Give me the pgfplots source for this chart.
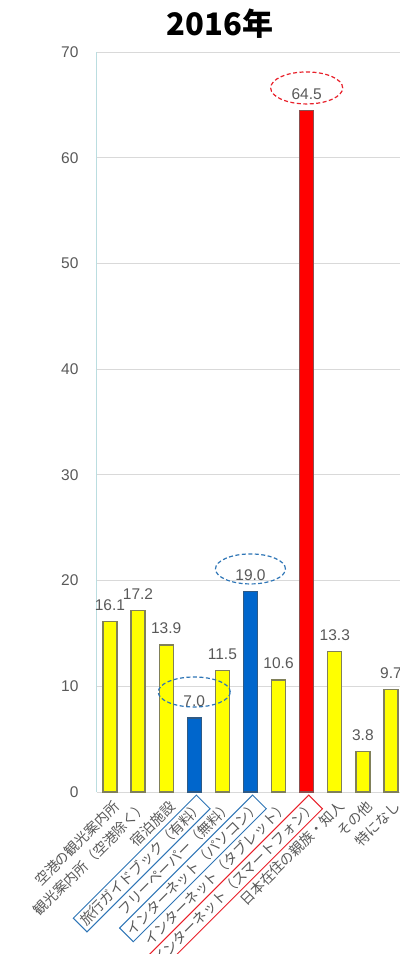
\documentclass[border=0pt]{standalone}
\usepackage{fontspec}
\setmainfont{Liberation Sans}
\newfontfamily\jp{Noto Sans CJK JP}
\usepackage{pgfplots}
\pgfplotsset{compat=1.18}

\definecolor{lbl}{HTML}{595959}
\definecolor{boxblue}{HTML}{2E75B6}
\definecolor{boxred}{HTML}{E8202A}
\definecolor{yfill}{HTML}{FFFF00}
\definecolor{bfill}{HTML}{0066CC}
\definecolor{rfill}{HTML}{FF0000}
\definecolor{edge}{HTML}{80805A}
\definecolor{bedge}{HTML}{2F5A85}
\definecolor{redge}{HTML}{8A5050}
\definecolor{axl}{HTML}{BBDDE0}
\definecolor{gridc}{HTML}{D9D9D9}

% boxed and plain tick labels, same padding
\newcommand{\bx}[2]{{\setlength{\fboxsep}{2.5pt}\setlength{\fboxrule}{1pt}\color{#1}\fbox{\color{lbl}#2}}}
\newcommand{\nb}[1]{{\setlength{\fboxsep}{3.5pt}\setlength{\fboxrule}{0pt}\fbox{#1}}}

\begin{document}
\begin{tikzpicture}
\begin{axis}[
    scale only axis,
    width=303pt, height=740pt,
    xmin=-0.46, xmax=10.32,
    ymin=0, ymax=70,
    ybar, bar width=14pt,
    every axis plot/.append style={bar shift=0pt, line width=1.2pt},
    axis x line*=bottom, axis y line*=left,
    axis line style={-},
    x axis line style={draw=gridc, line width=0.8pt},
    y axis line style={draw=axl, line width=1pt},
    ytick={0,10,...,70},
    ymajorgrids,
    grid style={draw=gridc, line width=0.8pt},
    major tick length=0pt,
    xtick={0,...,10},
    xticklabels={
      \nb{空港の観光案内所},
      \nb{観光案内所（空港除く）},
      \nb{宿泊施設},
      \bx{boxblue}{旅行ガイドブック（有料）},
      \nb{フリーペーパー（無料）},
      \bx{boxblue}{インターネット（パソコン）},
      \nb{インターネット（タブレット）},
      \bx{boxred}{インターネット（スマートフォン）},
      \nb{日本在住の親族・知人},
      \nb{その他},
      \nb{特になし}},
    xticklabel style={rotate=45, anchor=north east, inner sep=0pt, yshift=-3pt,
      font=\jp\fontsize{14}{14}\selectfont, text=lbl},
    yticklabel style={font=\fontsize{15.5}{15.5}\selectfont, text=lbl, xshift=-15pt},
    /pgf/number format/assume math mode=true,
    nodes near coords,
    nodes near coords style={font=\fontsize{15.5}{15.5}\selectfont, text=lbl, yshift=7pt,
      /pgf/number format/.cd, fixed, fixed zerofill, precision=1},
]
\addplot[fill=yfill, draw=edge] coordinates {
  (0,16.1) (1,17.2) (2,13.9) (4,11.5) (6,10.6) (8,13.3) (9,3.8) (10,9.7)};
\addplot[fill=bfill, draw=bedge] coordinates {(3,7.0) (5,19.0)};
\addplot[fill=rfill, draw=redge] coordinates {(7,64.5)};

\draw[boxblue, dash pattern=on 4pt off 2.5pt, line width=1.2pt]
  (axis cs:3,9.46) ellipse [x radius=36pt, y radius=15pt];
\draw[boxblue, dash pattern=on 4pt off 2.5pt, line width=1.2pt]
  (axis cs:5,21.1) ellipse [x radius=35pt, y radius=15pt];
\draw[boxred, dash pattern=on 4pt off 2.5pt, line width=1.2pt]
  (axis cs:7,66.6) ellipse [x radius=36pt, y radius=16pt];
\end{axis}

\node[font=\jp\bfseries\fontsize{31}{31}\selectfont] at ([shift={(123pt,28pt)}]current axis.north west) {2016年};

\pgfresetboundingbox
\path[use as bounding box] ([shift={(-97pt,-162pt)}]current axis.south west)
  rectangle ([shift={(0pt,52pt)}]current axis.north east);
\end{tikzpicture}
\end{document}
